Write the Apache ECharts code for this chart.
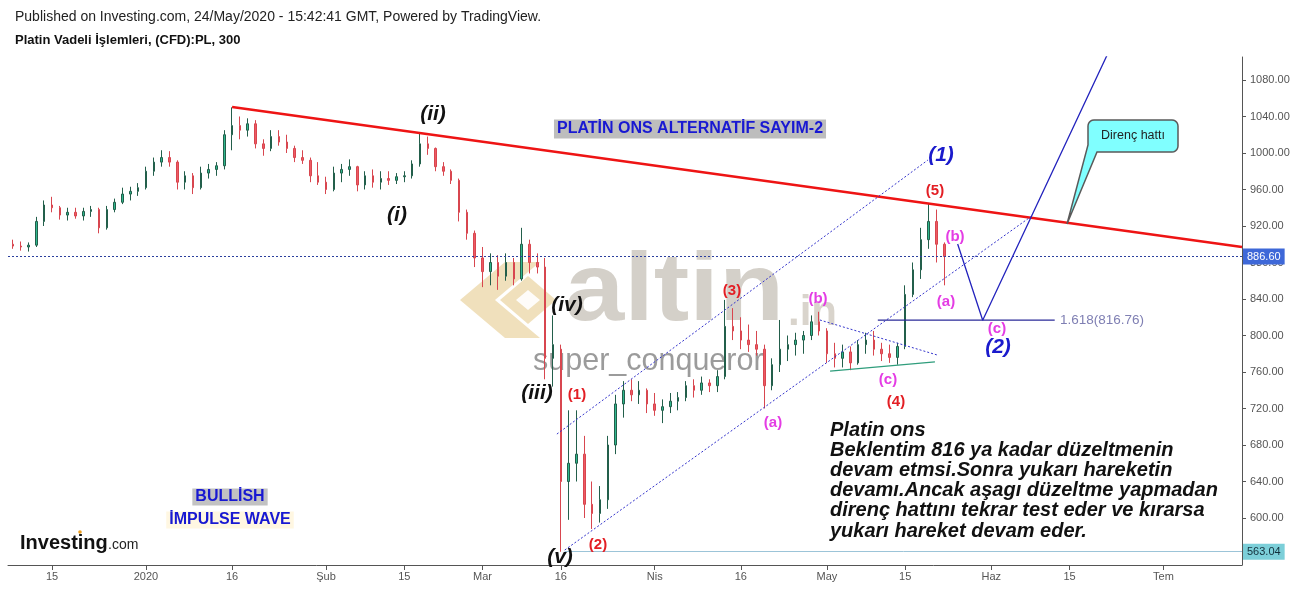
<!DOCTYPE html>
<html><head><meta charset="utf-8">
<script src="https://cdn.jsdelivr.net/npm/echarts@6/dist/echarts.min.js"></script>
<style>html,body{margin:0;padding:0;background:#fff}#c{width:1299px;height:589px}</style>
</head><body><div id="c"></div>
<script>
// ---------- DATA ----------
const firstDay = '2019-12-09';           // first trading day drawn (weekdays only)
const open  = [900,898,897,899,925,943,940,932,935,931, 936,938,918,938,946,955,958,962,980,990,
               995,990,968,975,962,978,982,986,1020,1030, 1025,1032,1010,1005,1018,1012,1005,995,992,975,
               968,960,978,982,985,965,975,968,972,970, 974,975,988,1010,1005,985,980,970,935,912,
               885,870,880,865,880,862,900,880,875,775, 785,640,660,670,615,605,620,680,725,740,
               735,740,725,718,722,728,732,745,740,748, 745,755,810,805,795,790,785,745,768,785,
               790,795,800,815,805,780,775,782,770,790, 795,785,780,776,788,845,872,905,925,900];
const high  = [905,903,902,930,948,952,942,940,940,940, 942,940,942,950,962,963,967,985,995,1003,
               1002,992,980,978,985,988,990,1025,1050,1040, 1038,1036,1015,1025,1025,1020,1008,1003,995,990,
               974,985,988,993,986,980,982,980,980,978, 980,992,1023,1018,1006,990,982,972,938,915,
               897,890,888,890,885,918,905,890,885,822, 790,718,718,690,640,635,690,735,750,752,
               750,742,737,730,737,738,750,752,755,752, 762,839,830,820,812,805,790,775,817,800,
               803,805,822,826,808,792,790,788,795,803, 805,792,790,792,855,880,918,945,938,902];
const low   = [895,893,892,897,920,935,927,926,928,926, 930,912,916,935,944,948,953,960,975,985,
               985,960,960,955,960,972,975,982,1003,1015, 1018,1005,997,1002,1008,1000,990,988,968,965,
               955,958,968,975,958,960,962,960,965,966, 968,972,985,998,980,975,966,925,905,875,
               853,855,850,860,855,860,868,868,752,744, 563,598,640,600,588,595,610,670,710,728,
               725,715,712,704,715,718,728,732,735,738, 738,752,795,785,782,778,720,740,760,772,
               778,780,795,800,770,765,765,762,768,780, 778,772,770,768,785,842,862,895,880,855];
const close = [898,897,899,925,943,940,932,935,931,936, 938,918,938,946,955,958,962,980,990,995,
               990,968,975,962,978,982,986,1020,1030,1025, 1032,1010,1005,1018,1012,1005,995,992,975,968,
               960,978,982,985,965,975,968,972,970,974, 975,988,1010,1005,985,980,970,935,912,885,
               870,880,865,880,862,900,880,875,775,790, 640,660,670,615,605,620,680,725,740,735,
               740,725,718,722,728,732,745,740,748,745, 755,810,805,795,790,785,745,768,785,790,
               795,800,815,805,780,775,782,770,790,795, 785,780,776,788,845,872,905,925,900,886.6];

const tickDates  = ['2019-12-15','2020-01-01','2020-01-16','2020-02-01','2020-02-15','2020-03-01','2020-03-16',
                    '2020-04-01','2020-04-16','2020-05-01','2020-05-15','2020-06-01','2020-06-15','2020-07-01'];
const tickLabels = ['15','2020','16','Şub','15','Mar','16','Nis','16','May','15','Haz','15','Tem'];
const priceTicks = [600,640,680,720,760,800,840,880,920,960,1000,1040,1080];
const lastPrice = 886.60, lowPrice = 563.04, fibLevel = 816.76;

// drawn tools, as [weekday index, price]
const redTrend     = [[29.0,1050.4],[158.03,897.0]];
const channelUpper = [[70.5,692.0],[117.9,992.3]];
const channelLower = [[71.5,564.9],[131.0,929.9]];
const triUpper     = [[104.1,817.0],[119.1,778.6]];
const triLower     = [[105.4,761.0],[118.8,771.0]];
const fibLine      = [[111.5,fibLevel],[134.1,fibLevel]];
const projPath     = [[121.7,900.3],[124.9,fibLevel],[141.1,1112.9]];

// ---------- helpers ----------
const ORIGIN = Date.UTC(2019,11,6);
function toUTC(s){const p=s.split('-').map(Number);return Date.UTC(p[0],p[1]-1,p[2]);}
function wdIndex(s){const t=toUTC(s);let n=0;for(let u=ORIGIN;u<t;u+=864e5){const w=new Date(u).getUTCDay();if(w!==0&&w!==6)n++;}return n;}
function tradingDays(start,n){const out=[];let u=toUTC(start);while(out.length<n){const d=new Date(u);const w=d.getUTCDay();if(w!==0&&w!==6)out.push(d.toISOString().slice(0,10));u+=864e5;}return out;}

const dates = tradingDays(firstDay, open.length);
const candles = dates.map((d,i)=>[wdIndex(d), open[i], close[i], low[i], high[i]]);
const tickIdx = tickDates.map(wdIndex);
const labelMap = {}; tickIdx.forEach((v,i)=>labelMap[v]=tickLabels[i]);

function lineSeries(data, color, width, type){
  return {type:'line', data, showSymbol:false, symbol:'none', silent:true, animation:false, z:5,
          lineStyle:{color, width, type:type||'solid'}};
}

const F = '"Liberation Sans", Arial, sans-serif';
function txt(text, x, y, font, fill, extra){
  return {type:'text', z:50, silent:true, style:Object.assign({text, x, y, font, fill, align:'center', verticalAlign:'middle'}, extra||{})};
}
// rounded-rect callout with tail, as polygon points
function calloutPoints(x0,y0,x1,y1,r,tail){
  const pts=[];
  function arc(cx,cy,a0,a1){for(let k=0;k<=5;k++){const a=a0+(a1-a0)*k/5;pts.push([cx+r*Math.cos(a),cy+r*Math.sin(a)]);}}
  arc(x0+r,y0+r,Math.PI,1.5*Math.PI);
  arc(x1-r,y0+r,1.5*Math.PI,2*Math.PI);
  arc(x1-r,y1-r,0,0.5*Math.PI);
  pts.push(tail[0]); pts.push(tail[1]); pts.push(tail[2]);
  return pts;
}

const chart = echarts.init(document.getElementById('c'), null, {renderer:'canvas'});
chart.setOption({
  animation:false,
  backgroundColor:'#ffffff',
  grid:{left:8, right:57, top:57, bottom:24, containLabel:false},
  xAxis:{type:'value', min:0.37, max:158.03, splitLine:{show:false},
    axisLine:{show:true, onZero:false, lineStyle:{color:'#555', width:1}},
    axisTick:{show:true, customValues:tickIdx, length:5, lineStyle:{color:'#555'}},
    axisLabel:{customValues:tickIdx, formatter:v=>labelMap[Math.round(v)]||'', color:'#555', fontSize:11, margin:6, fontFamily:F}},
  yAxis:{type:'value', position:'right', min:548.5, max:1105.2, scale:true, splitLine:{show:false},
    axisLine:{show:true, lineStyle:{color:'#555', width:1}},
    axisTick:{show:true, customValues:priceTicks, length:4, lineStyle:{color:'#555'}},
    axisLabel:{customValues:priceTicks, formatter:v=>Number(v).toFixed(2), color:'#555', fontSize:11, margin:8, fontFamily:F}},
  series:[
    {type:'candlestick', data:candles, encode:{x:0, y:[1,2,3,4]}, barWidth:2, z:3, silent:true,
     itemStyle:{color:'#2fb88e', color0:'#ee5a64', borderColor:'#235f4b', borderColor0:'#d8464f', borderWidth:1},
     markLine:{silent:true, symbol:['none','none'], animation:false,
       data:[
         {yAxis:lastPrice, lineStyle:{color:'#2b3f9e', type:[2,2], width:1},
          label:{show:true, position:'end', formatter:lastPrice.toFixed(2), color:'#fff', backgroundColor:'#3e68d8',
                 padding:[3,4,2,4], fontSize:11, fontFamily:F, distance:1}},
         [{coord:[71.5,lowPrice], lineStyle:{color:'#9cc4d8', type:'solid', width:1},
           label:{show:true, position:'end', formatter:lowPrice.toFixed(2), color:'#13303c', backgroundColor:'#7ccfd9',
                  padding:[3,4,2,4], fontSize:11, fontFamily:F, distance:1}},
          {coord:[158.03,lowPrice]}]
       ]}},
    lineSeries(redTrend,'#ee1414',2.5),
    lineSeries(channelUpper,'#3434cc',1,[2,2]),
    lineSeries(channelLower,'#3434cc',1,[2,2]),
    lineSeries(triUpper,'#3434cc',1,[2,2]),
    lineSeries(triLower,'#2f9d7c',1.3),
    lineSeries(fibLine,'#2a2a98',1.3),
    lineSeries(projPath,'#2323bd',1.3)
  ],
  graphic:[
    // watermark (behind series)
    {type:'polygon', z:0, silent:true, shape:{points:[[460,300],[505,262],[540,262],[495,300],[540,338],[505,338]]}, style:{fill:'#ead3a0', opacity:0.7}},
    {type:'polygon', z:0, silent:true, shape:{points:[[500,300],[528,276],[556,300],[528,324]]}, style:{fill:'#ead3a0', opacity:0.7}},
    {type:'polygon', z:0, silent:true, shape:{points:[[516,300],[528,290],[540,300],[528,310]]}, style:{fill:'#ffffff', opacity:0.9}},
    {type:'text', z:0, silent:true, x:565, y:294, scaleX:1.11, scaleY:1,
     style:{text:'altin', x:0, y:0, font:'bold 96px '+F, fill:'#c9c4bb', align:'left', verticalAlign:'middle', opacity:0.8}},
    {type:'text', z:0, silent:true, style:{text:'.in', x:788, y:313, font:'bold 42px '+F, fill:'#cfc9bf', align:'left', verticalAlign:'middle', opacity:0.8}},
    {type:'text', z:0, silent:true, style:{text:'super_conqueror', x:533, y:362, font:'30.5px '+F, fill:'#8a8a8a', align:'left', verticalAlign:'middle', opacity:0.85}},

    // header
    {type:'text', z:50, silent:true, style:{text:'Published on Investing.com, 24/May/2020 - 15:42:41 GMT, Powered by TradingView.', x:15, y:17, font:'14px '+F, fill:'#222', align:'left', verticalAlign:'middle'}},
    {type:'text', z:50, silent:true, style:{text:'Platin Vadeli İşlemleri, (CFD):PL, 300', x:15, y:40, font:'bold 13px '+F, fill:'#111', align:'left', verticalAlign:'middle'}},

    // boxed titles
    txt('PLATİN ONS ALTERNATİF SAYIM-2', 690, 129, 'bold 16px '+F, '#1818d2', {backgroundColor:'#bdbdbd', padding:[2,3,1,3]}),
    txt('BULLİSH', 230, 497, 'bold 16px '+F, '#1818d2', {backgroundColor:'#c2c2c2', padding:[1,3,0,3]}),
    txt('İMPULSE WAVE', 230, 520, 'bold 16px '+F, '#1818d2', {backgroundColor:'#fff7e2', padding:[1,3,0,3]}),

    // wave labels
    txt('(ii)', 433, 114, 'italic bold 21px '+F, '#111'),
    txt('(i)', 397, 215, 'italic bold 21px '+F, '#111'),
    txt('(iv)', 567, 305, 'italic bold 21px '+F, '#111'),
    txt('(iii)', 537, 393, 'italic bold 21px '+F, '#111'),
    txt('(v)', 560, 557, 'italic bold 21px '+F, '#111'),
    txt('(1)', 577, 395, 'bold 15px '+F, '#e31e24'),
    txt('(2)', 598, 545, 'bold 15px '+F, '#e31e24'),
    txt('(3)', 732, 291, 'bold 15px '+F, '#e31e24'),
    txt('(4)', 896, 402, 'bold 15px '+F, '#e31e24'),
    txt('(5)', 935, 191, 'bold 15px '+F, '#e31e24'),
    txt('(a)', 773, 423, 'bold 15px '+F, '#e43ce4'),
    txt('(b)', 818, 299, 'bold 15px '+F, '#e43ce4'),
    txt('(c)', 888, 380, 'bold 15px '+F, '#e43ce4'),
    txt('(a)', 946, 302, 'bold 15px '+F, '#e43ce4'),
    txt('(b)', 955, 237, 'bold 15px '+F, '#e43ce4'),
    txt('(c)', 997, 329, 'bold 15px '+F, '#e43ce4'),
    txt('(1)', 941, 155, 'italic bold 21px '+F, '#1a1acc'),
    txt('(2)', 998, 347, 'italic bold 21px '+F, '#1a1acc'),
    {type:'text', z:50, silent:true, style:{text:'1.618(816.76)', x:1060, y:320, font:'13.5px '+F, fill:'#7f7fb3', align:'left', verticalAlign:'middle'}},

    // callout
    {type:'polygon', z:50, silent:true, shape:{points:calloutPoints(1088,120,1178,152,6,[[1097,152],[1067,224],[1088,145]])},
     style:{fill:'#80ffff', stroke:'#5a5a5a', lineWidth:1.5}},
    txt('Direnç hattı', 1133, 136, '12.5px '+F, '#222'),

    // comment paragraph
    {type:'text', z:50, silent:true, style:{text:'Platin ons\nBeklentim 816 ya kadar düzeltmenin\ndevam etmsi.Sonra yukarı hareketin\ndevamı.Ancak aşagı düzeltme yapmadan\ndirenç hattını tekrar test eder ve kırarsa\nyukarı hareket devam eder.',
      x:830, y:420, font:'italic bold 20px '+F, fill:'#111', align:'left', verticalAlign:'top', lineHeight:20.2}},

    // investing logo
    {type:'text', z:50, silent:true, style:{text:'Investing', x:20, y:543, font:'bold 20px '+F, fill:'#111', align:'left', verticalAlign:'middle'}},
    {type:'text', z:50, silent:true, style:{text:'.com', x:108, y:545, font:'14px '+F, fill:'#222', align:'left', verticalAlign:'middle'}},
    {type:'circle', z:51, silent:true, shape:{cx:80, cy:532, r:1.8}, style:{fill:'#f0a020'}}
  ]
});
</script></body></html>
